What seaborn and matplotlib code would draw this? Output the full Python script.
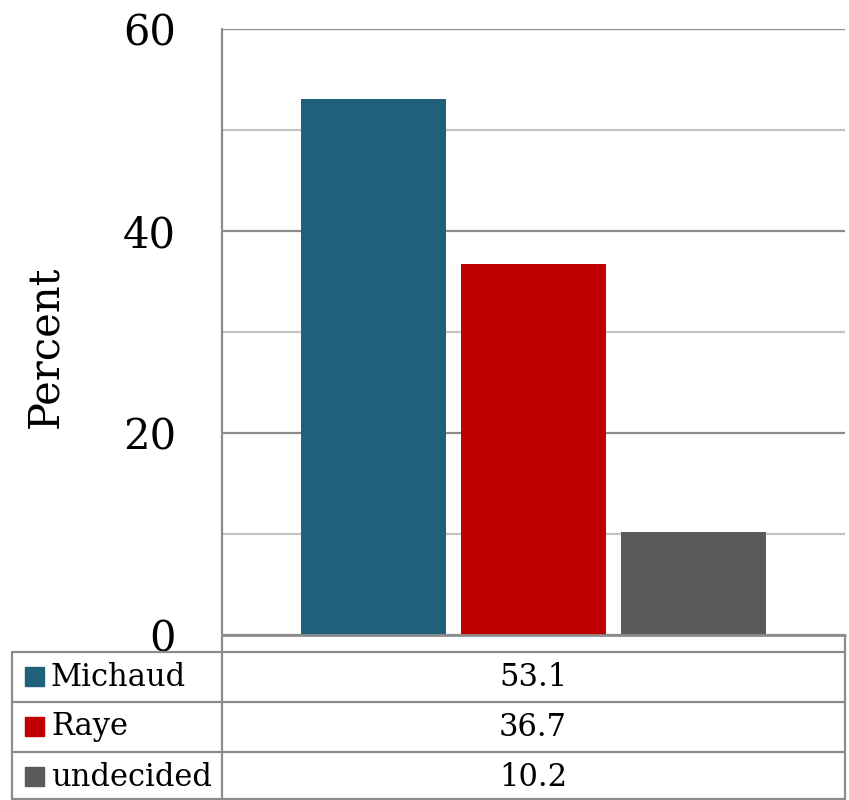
import pandas as pd
import seaborn as sns
import matplotlib.pyplot as plt
from matplotlib.lines import Line2D
from matplotlib.patches import Rectangle

# data
candidates = ["Michaud", "Raye", "undecided"]
percents = [53.1, 36.7, 10.2]
colors = ["#20607A", "#C00000", "#5A5A5A"]
yticks = [0, 20, 40, 60]

W, H = 849, 800
sns.set_style("white")
plt.rcParams["font.family"] = ["DejaVu Serif"]
plt.rcParams["text.color"] = "black"
plt.rcParams["ytick.color"] = "black"
plt.rcParams["axes.labelcolor"] = "black"

fig = plt.figure(figsize=(W / 100, H / 100), dpi=100)
ax = fig.add_axes([222 / W, 1 - 635 / H, 623 / W, 606 / H])

df = pd.DataFrame({"cat": [""] * 3, "who": candidates, "pct": percents})
sns.barplot(data=df, x="cat", y="pct", hue="who", hue_order=candidates,
            palette=colors, width=0.77, gap=0.09, saturation=1, ax=ax,
            legend=False, linewidth=0, edgecolor="none", zorder=3)

ax.set_xlim(-0.5, 0.5)
ax.set_ylim(0, 60)
ax.set_yticks(yticks)
ax.set_yticklabels([str(t) for t in yticks], fontsize=30)
ax.set_yticks([10, 30, 50], minor=True)
ax.tick_params(axis="y", which="both", length=0, pad=33)
ax.tick_params(axis="x", length=0, labelbottom=False)
ax.set_xlabel("")
ax.set_ylabel("Percent", fontsize=30)
ax.yaxis.set_label_coords(-0.25, 0.475)
ax.grid(axis="y", which="major", color="#8C8C8C", linewidth=1.6, zorder=0)
ax.grid(axis="y", which="minor", color="#C4C4C4", linewidth=1.6, zorder=0)
for s in ["top", "right", "bottom", "left"]:
    ax.spines[s].set_visible(False)

# data table below the axes
def px_line(x0, y0, x1, y1, c="#8C8C8C", lw=1.6):
    fig.add_artist(Line2D([x0 / W, x1 / W], [1 - y0 / H, 1 - y1 / H],
                          color=c, linewidth=lw, transform=fig.transFigure))

px_line(222, 29, 222, 800)
px_line(222, 635, 845, 635, lw=2)
px_line(845, 635, 845, 800)
row_top = [652, 702, 752]
for y in row_top:
    px_line(12, y, 845, y)
px_line(12, 799, 845, 799)
px_line(12, 652, 12, 800)

for i, (name, val, col) in enumerate(zip(candidates, percents, colors)):
    yc = row_top[i] + 25
    fig.add_artist(Rectangle((25 / W, 1 - (yc + 9) / H), 19 / W, 19 / H,
                             color=col, transform=fig.transFigure))
    fig.text(51 / W, 1 - yc / H, name, fontsize=22, va="center", ha="left")
    fig.text(533 / W, 1 - yc / H, f"{val:.1f}", fontsize=22, va="center", ha="center")

fig.savefig("out.png", dpi=100)
